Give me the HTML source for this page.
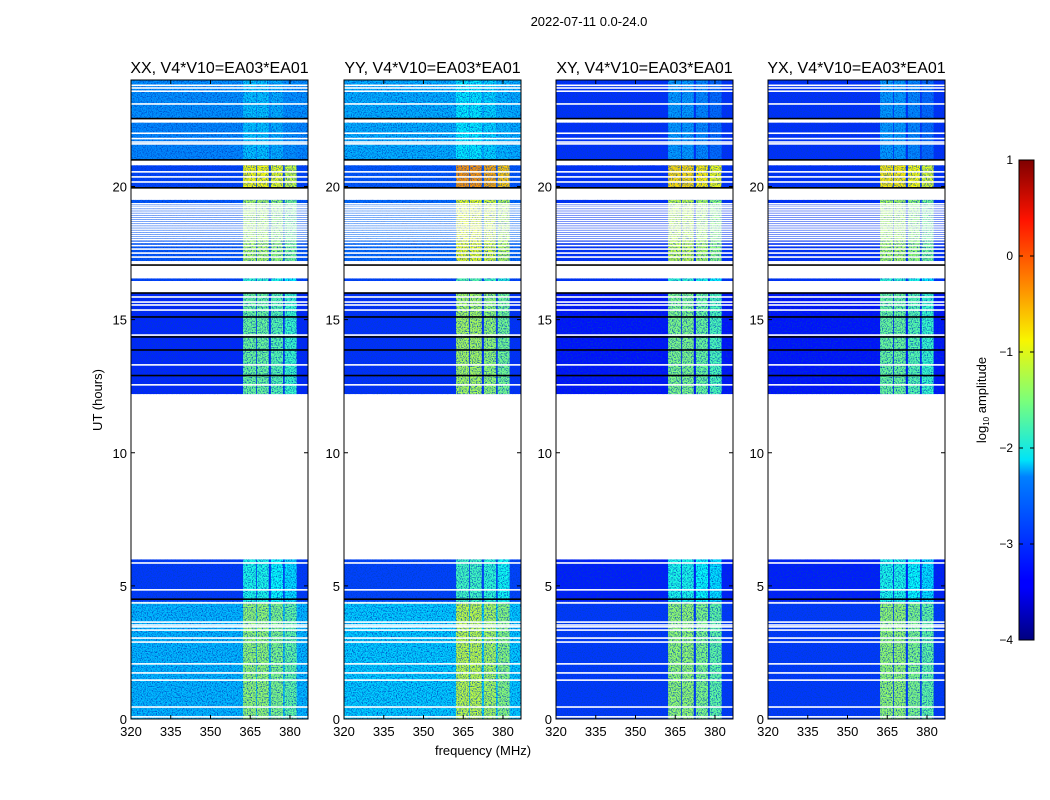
<!DOCTYPE html>
<html><head><meta charset="utf-8"><style>
html,body{margin:0;padding:0;background:#fff;width:1050px;height:800px;overflow:hidden}
svg text{font-family:"Liberation Sans",sans-serif;fill:#000}
</style></head><body>
<svg id="chart" width="1050" height="800" xmlns="http://www.w3.org/2000/svg">
<defs>
<filter id="noise" x="0" y="0" width="100%" height="100%" filterUnits="objectBoundingBox">
<feTurbulence type="fractalNoise" baseFrequency="0.8" numOctaves="2" seed="3"/>
<feColorMatrix type="matrix" values="0 0 0 0 0  0 0 0 0 0.05  0 0 0 0 0.55  0 0 0 3 -1.35"/>
</filter>
<linearGradient id="jet" x1="0" y1="1" x2="0" y2="0">
<stop offset="0" stop-color="#00007f"/><stop offset="0.11" stop-color="#0000ff"/>
<stop offset="0.125" stop-color="#0000ff"/><stop offset="0.34" stop-color="#0080ff"/>
<stop offset="0.375" stop-color="#00e4f8"/><stop offset="0.5" stop-color="#7cff79"/>
<stop offset="0.625" stop-color="#f8f500"/><stop offset="0.75" stop-color="#ff8000"/>
<stop offset="0.875" stop-color="#ff1300"/><stop offset="1" stop-color="#7f0000"/>
</linearGradient>
</defs>
<text x="589" y="26" font-size="13" text-anchor="middle">2022-07-11 0.0-24.0</text>
<text transform="translate(102,400) rotate(-90)" font-size="13" text-anchor="middle">UT (hours)</text>
<text x="483" y="755" font-size="13" text-anchor="middle">frequency (MHz)</text>
<g id="panels"></g>
<g>
<rect x="1019" y="160" width="15" height="480" fill="url(#jet)" stroke="#000" stroke-width="1"/>
<g id="cbticks"></g>
<text transform="translate(986,400) rotate(-90)" font-size="13" text-anchor="middle">log<tspan font-size="8" dy="3">10</tspan><tspan dy="-3"> amplitude</tspan></text>
</g>
</svg>
<script>
// ---- data ----
const panelTitles = ["XX, V4*V10=EA03*EA01","YY, V4*V10=EA03*EA01","XY, V4*V10=EA03*EA01","YX, V4*V10=EA03*EA01"];
const segStart = [22.55, 21.0, 19.95, 17.2, 16.45, 12.2, 4.4, 0.0];
const segEnd   = [24.0, 22.4, 20.8, 19.5, 16.55, 16.0, 6.0, 4.4];
const baseXX = [-2.65,-2.7,-3.05,-2.95,-3.05,-3.2,-3.1,-2.45];
const baseYY = [-2.5,-2.5,-2.95,-2.85,-3.05,-3.15,-3.05,-2.35];
const baseXY = [-3.15,-3.15,-3.15,-3.15,-3.15,-3.3,-3.25,-3.1];
const baseYX = [-3.15,-3.15,-3.15,-3.15,-3.15,-3.3,-3.25,-3.1];
const bandXX = [-2.4,-2.4,-0.9,-1.3,-1.9,-1.6,-2.0,-1.4];
const bandYY = [-2.2,-2.2,-0.35,-1.0,-1.7,-1.3,-1.8,-1.2];
const bandXY = [-2.6,-2.6,-0.7,-1.2,-1.9,-1.5,-2.0,-1.4];
const bandYX = [-2.6,-2.6,-0.8,-1.3,-1.9,-1.6,-2.0,-1.4];
const bandLo = [362.3, 367.5, 372.8, 378.0];
const bandHi = [367.2, 372.0, 377.4, 382.5];
const bandOffset = [0, 0, -0.1, -0.25];
const whiteLines = [23.8,23.7,23.58,23.1,22.0,21.8,21.67,21.6,20.55,20.36,20.17,
 19.35,19.27,19.2,19.12,19.04,18.96,18.88,18.8,18.72,18.64,18.56,18.48,18.4,18.32,18.24,18.16,18.08,18.0,17.9,17.78,17.65,17.5,17.35,
 15.85,15.66,15.55,15.36,14.42,13.3,12.55,5.86,4.85,4.36,3.64,3.53,3.46,3.34,3.04,2.89,2.07,1.73,1.46,0.45,0.08];
const blackLines = [22.55,21.0,19.95,17.05,16.0,15.1,14.35,13.86,12.9,4.5];
const xTicks = [320,335,350,365,380];
const yTicks = [0,5,10,15,20];
const cbTicks = [1,0,-1,-2,-3,-4];
const cbLabels = ["1","0","\u22121","\u22122","\u22123","\u22124"];
// ---- layout ----
const panelX0 = [131,344,556,768], panelW = 177, yTop = 80, yBot = 719;
const fMin = 320, fMax = 386.8, tMin = 0, tMax = 24;
const bases = [baseXX,baseYY,baseXY,baseYX], bands = [bandXX,bandYY,bandXY,bandYX];
const NS = "http://www.w3.org/2000/svg";
function jet(v){
  let t = Math.max(0,Math.min(1,(v+4)/5));
  const f = x => Math.round(255*Math.max(0,Math.min(1,x)));
  return `rgb(${f(1.5-Math.abs(4*t-3))},${f(1.5-Math.abs(4*t-2))},${f(1.5-Math.abs(4*t-1))})`;
}
function el(tag, attrs, parent){ const e=document.createElementNS(NS,tag); for(const k in attrs) e.setAttribute(k,attrs[k]); parent.appendChild(e); return e; }
const yS = t => yBot - (t - tMin)/(tMax - tMin)*(yBot - yTop);
const panelsG = document.getElementById('panels');
for(let p=0;p<4;p++){
  const x0 = panelX0[p];
  const xS = f => x0 + (f - fMin)/(fMax - fMin)*panelW;
  const g = el('g',{},panelsG);
  
  
  const data = el('g',{},g);
  for(let s=0;s<segStart.length;s++){
    const y1 = yS(segEnd[s]), y2 = yS(segStart[s]);
    const r = el('rect',{x:x0,y:y1,width:panelW,height:y2-y1,fill:jet(bases[p][s])},data);
    
    
    for(let b=0;b<bandLo.length;b++){
      const br = el('rect',{x:xS(bandLo[b]),y:y1,width:xS(bandHi[b])-xS(bandLo[b]),height:y2-y1,fill:jet(bands[p][s]+bandOffset[b])},data);
      
      
    }
  }
  el('rect',{x:x0,y:yTop,width:panelW,height:yBot-yTop,filter:'url(#noise)'},data);
  el('rect',{x:x0,y:yS(12.1),width:panelW,height:yS(6.0)-yS(12.1),fill:'#fff'},data);
  for(const h of whiteLines){ el('rect',{x:x0,y:yS(h)-0.8,width:panelW,height:1.6,fill:'#fff'},data); }
  for(let s=0;s<segStart.length-1;s++){
    const yA = yS(segStart[s]), yB = yS(segEnd[s+1]);
    if(yB-yA>0.5) el('rect',{x:x0,y:yA,width:panelW,height:yB-yA,fill:'#fff'},data);
  }
  for(const h of blackLines){ el('rect',{x:x0,y:yS(h)-0.8,width:panelW,height:1.6,fill:'#000'},data); }
  const fr = el('rect',{x:x0,y:yTop,width:panelW,height:yBot-yTop,fill:'none',stroke:'#000','stroke-width':1},g);
  
  
  const tt = el('text',{x:x0+panelW/2,y:73,'font-size':16,'text-anchor':'middle'},g);
  tt.textContent = panelTitles[p];
  
  
  for(const f of xTicks){
    const x = xS(f);
    el('line',{x1:x,x2:x,y1:yBot,y2:yBot-4,stroke:'#000'},g);
    el('line',{x1:x,x2:x,y1:yTop,y2:yTop+4,stroke:'#000'},g);
    const t = el('text',{x:x,y:yBot+17,'font-size':13,'text-anchor':'middle'},g);
    t.textContent = f;
    
    
  }
  for(const h of yTicks){
    const y = yS(h);
    el('line',{x1:x0,x2:x0+4,y1:y,y2:y,stroke:'#000'},g);
    el('line',{x1:x0+panelW,x2:x0+panelW-4,y1:y,y2:y,stroke:'#000'},g);
    const t = el('text',{x:x0-4,y:y+5,'font-size':13,'text-anchor':'end'},g);
    t.textContent = h;
    
    
  }
}
const cbG = document.getElementById('cbticks');
for(let i=0;i<cbTicks.length;i++){
  const y = 640 - (cbTicks[i]+4)/5*480;
  el('line',{x1:1019,x2:1023,y1:y,y2:y,stroke:'#000'},cbG);
  el('line',{x1:1034,x2:1030,y1:y,y2:y,stroke:'#000'},cbG);
  const t = el('text',{x:1013,y:y+4,'font-size':12,'text-anchor':'end'},cbG);
  t.textContent = cbLabels[i];
  
  
}
</script>
</body></html>
